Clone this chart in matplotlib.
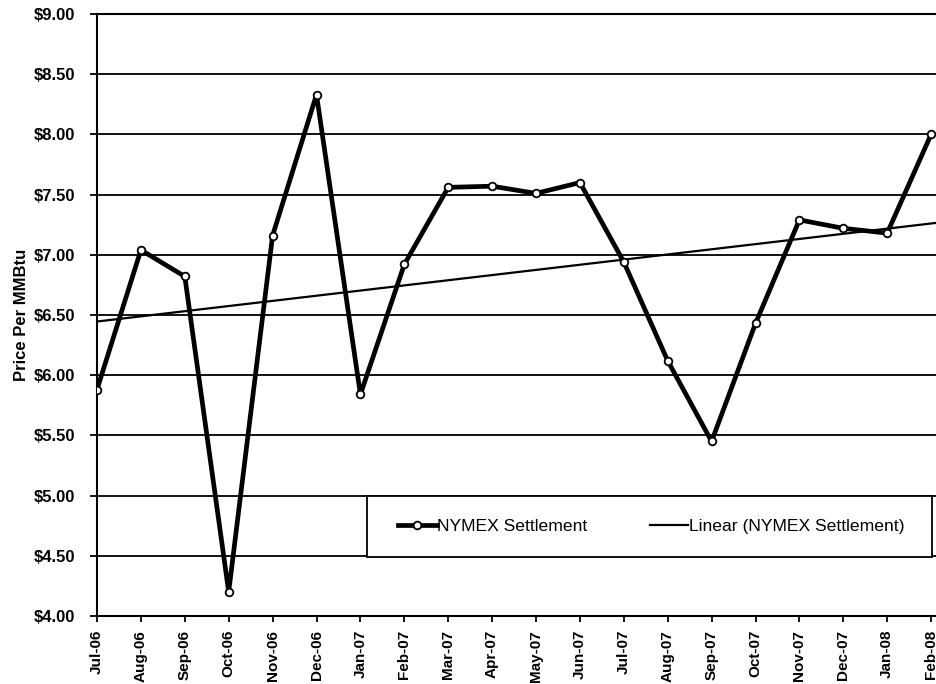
import numpy as np
import matplotlib
matplotlib.use("Agg")
import matplotlib.pyplot as plt
from matplotlib.patches import Rectangle

# monthly NYMEX settlement, $/MMBtu
months = ["Jul-06", "Aug-06", "Sep-06", "Oct-06", "Nov-06", "Dec-06", "Jan-07",
          "Feb-07", "Mar-07", "Apr-07", "May-07", "Jun-07", "Jul-07", "Aug-07",
          "Sep-07", "Oct-07", "Nov-07", "Dec-07", "Jan-08", "Feb-08"]
settle = [5.88, 7.04, 6.82, 4.20, 7.16, 8.33, 5.84, 6.92, 7.56, 7.57,
          7.51, 7.60, 6.94, 6.12, 5.45, 6.43, 7.29, 7.22, 7.18, 8.00]
yticks = [4.0, 4.5, 5.0, 5.5, 6.0, 6.5, 7.0, 7.5, 8.0, 8.5, 9.0]

plt.rcParams['font.family'] = ['Liberation Sans', 'DejaVu Sans']

fig = plt.figure(figsize=(9.36, 6.84), dpi=100)
W, H = 936, 684
ax = fig.add_axes([97 / W, (H - 616) / H, 878 / W, 602 / H])

x = np.arange(len(months))
ax.plot(x, settle, color='black', lw=3.4, marker='o', ms=5.5,
        mfc='white', mec='black', mew=1.3, label='NYMEX Settlement', zorder=4)

# linear trend line
k, b = np.polyfit(x, settle, 1)
xt = np.array([0, 20])
ax.plot(xt, k * xt + b, color='black', lw=1.6, label='Linear (NYMEX Settlement)', zorder=3)

ax.set_xlim(0, 20)
ax.set_ylim(4, 9)
ax.set_yticks(yticks)
ax.set_yticklabels(['${:.2f}'.format(v) for v in yticks])
ax.set_xticks(x)
ax.set_xticklabels(months, rotation=90)
ax.grid(axis='y', color='black', lw=1.3)
ax.set_axisbelow(True)

for s in ['left', 'bottom', 'top']:
    ax.spines[s].set_linewidth(1.5)
ax.spines['right'].set_visible(False)

ax.tick_params(axis='y', length=5, width=1.3, pad=11, labelsize=12)
ax.tick_params(axis='x', length=4, width=1.3, pad=6, labelsize=11)
for t in ax.get_yticklabels() + ax.get_xticklabels():
    t.set_fontweight('bold')

ax.set_ylabel('Price Per MMBtu', fontsize=12, fontweight='bold')
ax.yaxis.set_label_coords(-0.077, 0.5)

# legend box drawn separately so the padding matches
ax.add_patch(Rectangle((367 / W, (H - 557) / H), (932 - 367) / W, 61 / H,
                       transform=fig.transFigure, facecolor='white',
                       edgecolor='black', lw=1.3, zorder=5, clip_on=False))
leg = ax.legend(loc='center left', ncol=2, mode='expand',
                bbox_to_anchor=(398 / W, (H - 557) / H, (905 - 398) / W, 61 / H),
                bbox_transform=fig.transFigure, frameon=False,
                fontsize=12.6, handlelength=2.2, handletextpad=0.05,
                borderpad=0, borderaxespad=0)
leg.set_zorder(6)

fig.savefig('out.png', dpi=100)
